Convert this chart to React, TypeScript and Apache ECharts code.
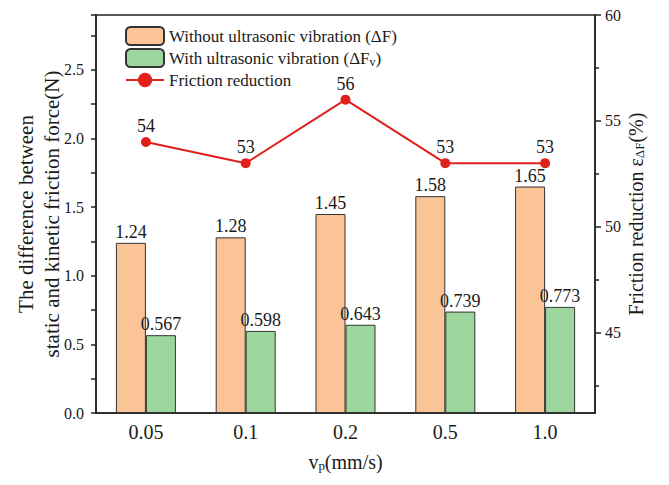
import React, { useEffect, useRef } from "react";
import * as echarts from "echarts";

const categories = ["0.05", "0.1", "0.2", "0.5", "1.0"];
const withoutUltrasonic = [1.24, 1.28, 1.45, 1.58, 1.65];
const withUltrasonic = [0.567, 0.598, 0.643, 0.739, 0.773];
const frictionReduction = [54, 53, 56, 53, 53];
const rightMajorTicks = [45, 50, 55, 60];
const rightMinorTicks = [42.5, 47.5, 52.5, 57.5];

const FONT = "Liberation Serif";
const TXT = "#1a1a1a";

export default function App() {
  const ref = useRef<HTMLDivElement>(null);
  useEffect(() => {
    if (!ref.current) return;
    const chart = echarts.init(ref.current, undefined, { renderer: "svg" });
    chart.setOption({
      animation: false,
      textStyle: { fontFamily: FONT, color: TXT },
      grid: {
        left: 96, right: 74, top: 15, bottom: 72,
        outerBoundsMode: "none",
        containLabel: false,
        show: true, borderColor: "#222", borderWidth: 1.5, backgroundColor: "transparent",
      },
      legend: {
        orient: "vertical",
        left: 125,
        top: 26,
        padding: 0,
        itemWidth: 38,
        itemHeight: 18,
        itemGap: 2,
        data: [
          { name: "Without ultrasonic vibration (ΔF)" },
          { name: "With ultrasonic vibration (ΔFv)" },
          { name: "Friction reduction" },
        ],
        formatter: (name: string) =>
          name === "With ultrasonic vibration (ΔFv)" ? "With ultrasonic vibration (ΔF{sub|v})" : name,
        textStyle: {
          fontFamily: FONT, fontSize: 17, color: TXT, lineHeight: 20,
          rich: { sub: { fontSize: 12, fontFamily: FONT, color: TXT, lineHeight: 20, verticalAlign: "bottom", padding: [6, 0, 0, 0] } },
        },
      },
      xAxis: {
        type: "category",
        data: categories,
        boundaryGap: true,
        axisLine: { lineStyle: { color: "#222", width: 1.5 } },
        axisTick: { alignWithLabel: true, length: 5, lineStyle: { color: "#222", width: 1.5 } },
        axisLabel: { fontFamily: FONT, fontSize: 20, color: TXT, margin: 9 },
        name: "v{sub|p}(mm/s)",
        nameLocation: "middle",
        nameGap: 38,
        nameMoveOverlap: false,
        nameTextStyle: {
          fontFamily: FONT, fontSize: 20, color: TXT,
          rich: { sub: { fontSize: 13, fontFamily: FONT, color: TXT, verticalAlign: "bottom", padding: [8, 0, 0, 0] } },
        },
      },
      yAxis: [
        {
          type: "value",
          min: 0,
          max: 2.9,
          interval: 0.5,
          position: "left",
          splitLine: { show: false },
          axisLine: { show: true, lineStyle: { color: "#222", width: 1.5 } },
          axisTick: { show: true, length: 5, lineStyle: { color: "#222", width: 1.5 } },
          minorTick: { show: true, splitNumber: 2, length: 5, lineStyle: { color: "#222", width: 1.5 } },
          axisLabel: {
            fontFamily: FONT, fontSize: 16, color: TXT, margin: 12,
            showMaxLabel: false,
            formatter: (v: number) => v.toFixed(1),
          },
          name: "The difference between\nstatic and kinetic friction force(N)",
          nameLocation: "middle",
          nameGap: 31,
          nameMoveOverlap: false,
          nameRotate: 90,
          nameTextStyle: { fontFamily: FONT, fontSize: 21, color: TXT, lineHeight: 26 },
        },
        {
          type: "value",
          min: 41.2,
          max: 60,
          position: "right",
          splitLine: { show: false },
          axisLine: { show: true, lineStyle: { color: "#222", width: 1.5 } },
          axisTick: { show: true, length: 6, customValues: rightMajorTicks, lineStyle: { color: "#222", width: 1.5 } },
          axisLabel: {
            fontFamily: FONT, fontSize: 16, color: TXT, margin: 10,
            customValues: rightMajorTicks,
          },
          name: "Friction reduction ε{sub|ΔF}(%)",
          nameLocation: "middle",
          nameGap: 30,
          nameMoveOverlap: false,
          nameRotate: 90,
          nameTextStyle: {
            fontFamily: FONT, fontSize: 20, color: TXT,
            rich: { sub: { fontSize: 13, fontFamily: FONT, color: TXT, verticalAlign: "bottom", padding: [8, 0, 0, 0] } },
          },
        },
        {
          type: "value",
          min: 41.2,
          max: 60,
          position: "right",
          splitLine: { show: false },
          axisLine: { show: false },
          axisTick: { show: true, length: 4, customValues: rightMinorTicks, lineStyle: { color: "#222", width: 1.5 } },
          axisLabel: { show: false },
        },
      ],
      series: [
        {
          name: "Without ultrasonic vibration (ΔF)",
          type: "bar",
          data: withoutUltrasonic,
          barWidth: 30,
          barGap: "0%",
          itemStyle: { color: "#FAC497", borderColor: "#333", borderWidth: 1 },
          label: { show: true, position: "top", fontFamily: FONT, fontSize: 18, color: TXT, distance: 2 },
        },
        {
          name: "With ultrasonic vibration (ΔFv)",
          type: "bar",
          data: withUltrasonic,
          barWidth: 30,
          barGap: "0%",
          itemStyle: { color: "#9ED79E", borderColor: "#333", borderWidth: 1 },
          label: { show: true, position: "top", fontFamily: FONT, fontSize: 18, color: TXT, distance: 2 },
        },
        {
          name: "Friction reduction",
          type: "line",
          yAxisIndex: 1,
          data: frictionReduction,
          symbol: "circle",
          symbolSize: 10,
          lineStyle: { color: "#E0201B", width: 2 },
          itemStyle: { color: "#E0201B" },
          label: { show: true, position: "top", fontFamily: FONT, fontSize: 18, color: TXT, distance: 2 },
        },
      ],
    });
    return () => chart.dispose();
  }, []);
  return <div ref={ref} style={{ position: "absolute", left: 0, top: 0, width: 669, height: 485 }} />;
}
